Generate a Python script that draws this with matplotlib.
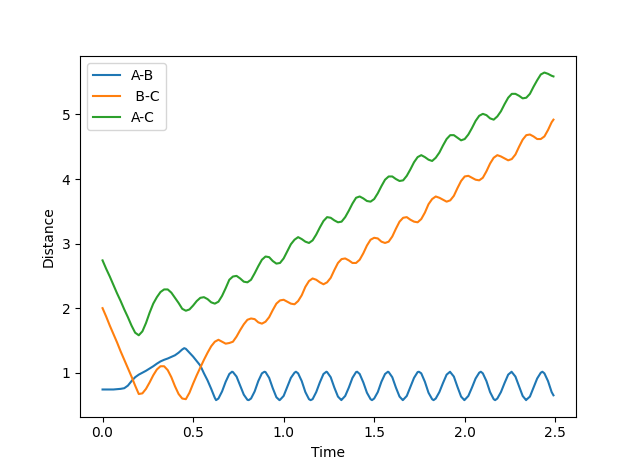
import matplotlib
matplotlib.use("Agg")
import matplotlib.pyplot as plt
import numpy as np

# time grid, step 0.02 up to 2.48 plus the last sample at 2.49
time = np.round(np.append(np.arange(0, 2.481, 0.02), 2.49), 2)

ab = [0.74, 0.74, 0.74, 0.74, 0.745, 0.75, 0.76, 0.80, 0.87, 0.93,
      0.97, 1.00, 1.03, 1.065, 1.10, 1.14, 1.175, 1.20, 1.22, 1.245,
      1.27, 1.31, 1.36, 1.37, 1.31, 1.25, 1.18, 1.11, 0.99, 0.88,
      0.75, 0.61, 0.60, 0.71, 0.86, 0.98, 1.01, 0.94, 0.80, 0.66,
      0.58, 0.60, 0.71, 0.87, 0.99, 1.01, 0.92, 0.76, 0.62, 0.58,
      0.64, 0.78, 0.92, 1.00, 0.99, 0.87, 0.70, 0.59, 0.59, 0.70,
      0.85, 0.98, 1.01, 0.93, 0.77, 0.63, 0.58, 0.64, 0.77, 0.92,
      1.01, 0.98, 0.85, 0.69, 0.59, 0.60, 0.70, 0.86, 0.98, 1.01,
      0.93, 0.77, 0.63, 0.58, 0.64, 0.78, 0.92, 1.01, 0.99, 0.86,
      0.69, 0.59, 0.60, 0.70, 0.84, 0.97, 1.01, 0.94, 0.78, 0.63,
      0.58, 0.64, 0.77, 0.91, 1.00, 0.99, 0.87, 0.70, 0.59, 0.60,
      0.70, 0.84, 0.97, 1.01, 0.94, 0.79, 0.64, 0.58, 0.63, 0.77,
      0.91, 1.00, 0.99, 0.87, 0.70, 0.65]

# turning points of the A-B vibration
ab_turn_time = [0.451, 0.627, 0.715, 0.807, 0.894, 0.977, 1.068, 1.149,
                1.236, 1.319, 1.406, 1.488, 1.576, 1.658, 1.747, 1.828,
                1.919, 1.998, 2.089, 2.168, 2.259, 2.339, 2.429]
ab_turn = [1.38, 0.575, 1.015, 0.575, 1.015, 0.575, 1.015, 0.575,
           1.015, 0.575, 1.015, 0.575, 1.015, 0.575, 1.015, 0.575,
           1.015, 0.575, 1.015, 0.575, 1.015, 0.575, 1.015]

bc = [2.00, 1.87, 1.73, 1.60, 1.47, 1.33, 1.20, 1.07, 0.94, 0.80,
      0.67, 0.68, 0.75, 0.85, 0.96, 1.05, 1.10, 1.10, 1.04, 0.93,
      0.79, 0.67, 0.60, 0.59, 0.69, 0.83, 0.96, 1.08, 1.20, 1.31,
      1.41, 1.48, 1.51, 1.48, 1.45, 1.46, 1.48, 1.56, 1.66, 1.75,
      1.82, 1.84, 1.83, 1.78, 1.76, 1.79, 1.86, 1.97, 2.07, 2.12,
      2.13, 2.10, 2.07, 2.06, 2.11, 2.20, 2.33, 2.42, 2.46, 2.44,
      2.40, 2.37, 2.40, 2.47, 2.59, 2.70, 2.76, 2.77, 2.74, 2.70,
      2.70, 2.75, 2.85, 2.97, 3.06, 3.09, 3.08, 3.03, 3.01, 3.03,
      3.11, 3.23, 3.34, 3.40, 3.41, 3.37, 3.34, 3.33, 3.38, 3.48,
      3.61, 3.69, 3.73, 3.71, 3.68, 3.65, 3.67, 3.74, 3.86, 3.97,
      4.04, 4.05, 4.02, 3.99, 3.98, 4.02, 4.12, 4.24, 4.33, 4.37,
      4.35, 4.32, 4.29, 4.31, 4.38, 4.50, 4.61, 4.68, 4.69, 4.66,
      4.62, 4.62, 4.66, 4.76, 4.88, 4.92]

ac = [2.74, 2.61, 2.49, 2.36, 2.23, 2.11, 1.98, 1.86, 1.73, 1.62,
      1.58, 1.64, 1.77, 1.93, 2.07, 2.17, 2.25, 2.29, 2.29, 2.24,
      2.16, 2.08, 1.99, 1.96, 1.98, 2.04, 2.11, 2.16, 2.17, 2.14,
      2.09, 2.07, 2.10, 2.19, 2.31, 2.44, 2.49, 2.50, 2.46, 2.41,
      2.40, 2.44, 2.54, 2.65, 2.75, 2.80, 2.79, 2.73, 2.69, 2.70,
      2.77, 2.88, 2.99, 3.06, 3.10, 3.07, 3.03, 3.01, 3.05, 3.14,
      3.25, 3.35, 3.41, 3.40, 3.36, 3.33, 3.34, 3.41, 3.51, 3.62,
      3.71, 3.73, 3.70, 3.66, 3.65, 3.69, 3.78, 3.89, 3.99, 4.04,
      4.04, 4.00, 3.97, 3.98, 4.05, 4.15, 4.26, 4.34, 4.37, 4.34,
      4.30, 4.28, 4.33, 4.41, 4.52, 4.62, 4.68, 4.68, 4.64, 4.60,
      4.62, 4.69, 4.79, 4.90, 4.98, 5.01, 4.99, 4.94, 4.92, 4.97,
      5.05, 5.16, 5.26, 5.32, 5.32, 5.29, 5.25, 5.26, 5.32, 5.43,
      5.53, 5.62, 5.65, 5.63, 5.60, 5.59]

labels = ['A-B', ' B-C', 'A-C']

# merge the A-B grid samples with its turning points, in time order
ab_t = np.concatenate([time, ab_turn_time])
ab_v = np.concatenate([ab, ab_turn])
order = np.argsort(ab_t)
ab_t, ab_v = ab_t[order], ab_v[order]

fig, ax = plt.subplots(figsize=(6.4, 4.68), dpi=100)
ax.plot(ab_t, ab_v, label=labels[0])
ax.plot(time, bc, label=labels[1])
ax.plot(time, ac, label=labels[2])

ax.set_xlabel('Time')
ax.set_ylabel('Distance')
ax.legend(loc='upper left')

fig.savefig('out.png', dpi=100)
